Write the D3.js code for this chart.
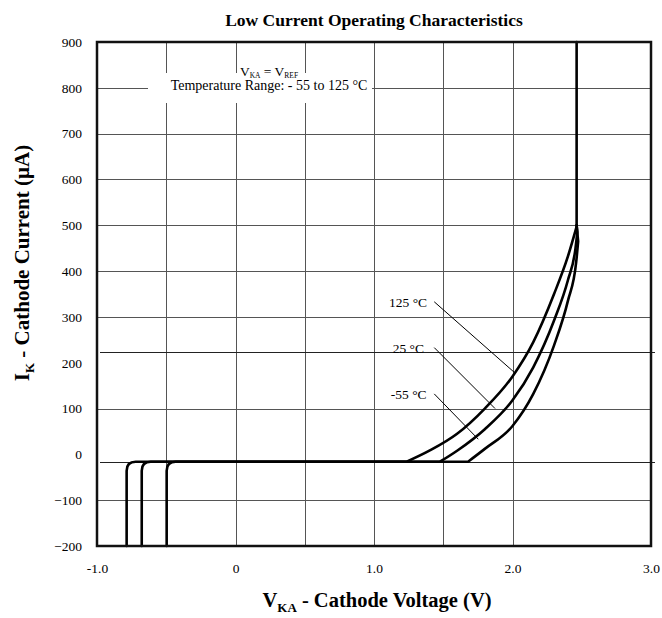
<!DOCTYPE html>
<html><head><meta charset="utf-8">
<script src="https://cdn.jsdelivr.net/npm/d3@7"></script>
<style>
html,body{margin:0;padding:0;background:#fff;}
text{font-family:"Liberation Serif","Times New Roman",serif;fill:#000;}
</style></head>
<body><div id="chart"></div>
<script>
// ---- data ----
const xTicks = [-1, 0, 1, 2, 3];
const xTickLabels = ["-1.0", "0", "1.0", "2.0", "3.0"];
const yTicks = [900, 800, 700, 600, 500, 400, 300, 200, 100, 0, -100, -200];
const xGrid = [-0.5, 0, 0.5, 1.0, 1.5, 2.0];
const yGrid = [800, 700, 600, 500, 400, 300, 100, -100];
const yGridLong = [223, -16];
const tempLabels = ["125 °C", "25 °C", "-55 °C"];
const leftV = [-0.786, -0.677, -0.497];       // reverse-bias knee voltage per curve
const flatI = -16;                              // flat current level (µA)
const rise125 = [[1.236,-16],[1.40,8],[1.60,45],[1.80,100],[2.00,170],[2.15,245],[2.30,350],[2.40,432],[2.463,497]];
const rise25  = [[1.476,-16],[1.60,8],[1.80,55],[2.00,118],[2.15,190],[2.30,292],[2.40,380],[2.455,450],[2.468,485]];
const riseM55 = [[1.679,-16],[1.80,12],[2.00,62],[2.15,132],[2.30,238],[2.40,335],[2.46,420],[2.474,465]];
const joinPt = [2.463, 500];
const topPt = [2.463, 900];
const labelPos = [[1.383,333],[1.361,232],[1.380,132]];
const leaders = [[[1.435,333],[2.013,179]],[[1.435,233],[1.874,100]],[[1.435,132],[1.753,33]]];

// ---- drawing ----
const W = 662, H = 618;
const svg = d3.select("#chart").append("svg").attr("width", W).attr("height", H);
const x = d3.scaleLinear().domain([-1, 3]).range([97, 651]);
const y = d3.scaleLinear().domain([-200, 900]).range([546, 42]);

const grid = svg.append("g").attr("stroke", "#555").attr("stroke-width", 1);
grid.selectAll("line.v").data(xGrid).join("line")
  .attr("x1", d => Math.round(x(d)) + 0.5).attr("x2", d => Math.round(x(d)) + 0.5)
  .attr("y1", y(900)).attr("y2", y(-200));
grid.selectAll("line.h").data(yGrid).join("line")
  .attr("x1", x(-1)).attr("x2", x(3))
  .attr("y1", d => Math.round(y(d)) + 0.5).attr("y2", d => Math.round(y(d)) + 0.5);
grid.selectAll("line.hl").data(yGridLong).join("line")
  .attr("stroke", "#222")
  .attr("x1", x(-1) + 3).attr("x2", x(3) + 4)
  .attr("y1", d => Math.round(y(d)) + 0.5).attr("y2", d => Math.round(y(d)) + 0.5);

// annotation box + text
svg.append("rect").attr("x", 148).attr("y", 73).attr("width", 224).attr("height", 30).attr("fill", "#fff");
const a1 = svg.append("text").attr("x", 269).attr("y", 76).attr("text-anchor", "middle").attr("font-size", 13.5);
a1.append("tspan").text("V");
a1.append("tspan").attr("font-size", 7.5).attr("dy", 2).text("KA");
a1.append("tspan").attr("dy", -2).text(" = V");
a1.append("tspan").attr("font-size", 7.5).attr("dy", 2).text("REF");
svg.append("text").attr("x", 269).attr("y", 90).attr("text-anchor", "middle").attr("font-size", 14)
  .text("Temperature Range: - 55 to 125 °C");

// leaders and labels
svg.append("g").selectAll("line").data(leaders).join("line")
  .attr("stroke", "#000").attr("stroke-width", 1)
  .attr("x1", d => x(d[0][0])).attr("y1", d => y(d[0][1]))
  .attr("x2", d => x(d[1][0])).attr("y2", d => y(d[1][1]));
svg.append("g").selectAll("text").data(tempLabels).join("text")
  .attr("x", (d, i) => x(labelPos[i][0])).attr("y", (d, i) => y(labelPos[i][1]))
  .attr("dy", "0.35em").attr("text-anchor", "end").attr("font-size", 13.5).text(d => d);

// curves
const riseLine = d3.line().x(d => x(d[0])).y(d => y(d[1])).curve(d3.curveMonotoneX);
function curvePath(v, rise, withTop) {
  const p = d3.path();
  const r = 9;
  p.moveTo(x(v), y(-200));
  p.lineTo(x(v), y(flatI) + r);
  p.quadraticCurveTo(x(v), y(flatI), x(v) + r, y(flatI));
  p.lineTo(x(rise[0][0]), y(rise[0][1]));
  riseLine.context(p)(rise);
  p.lineTo(x(joinPt[0]), y(joinPt[1]));
  if (withTop) p.lineTo(x(topPt[0]), y(topPt[1]));
  return p.toString();
}
const curveG = svg.append("g").attr("fill", "none").attr("stroke", "#000").attr("stroke-width", 2.6)
  .attr("stroke-linejoin", "round").attr("stroke-linecap", "round");
curveG.append("path").attr("d", curvePath(leftV[0], rise125, true));
curveG.append("path").attr("d", curvePath(leftV[1], rise25, false));
curveG.append("path").attr("d", curvePath(leftV[2], riseM55, false));

// frame
svg.append("rect").attr("x", x(-1)).attr("y", y(900)).attr("width", x(3) - x(-1)).attr("height", y(-200) - y(900))
  .attr("fill", "none").attr("stroke", "#111").attr("stroke-width", 2.5);

// axes
const xAxis = d3.axisBottom(x).tickValues(xTicks).tickFormat((d, i) => xTickLabels[i]).tickSize(0).tickPadding(17);
const gx = svg.append("g").attr("transform", `translate(0,${y(-200)})`).call(xAxis);
gx.select(".domain").remove();
gx.selectAll("text").attr("font-size", 13.5).attr("font-family", "Liberation Serif");
const yAxis = d3.axisLeft(y).tickValues(yTicks).tickSize(0).tickPadding(15);
const gy = svg.append("g").attr("transform", `translate(${x(-1)},0)`).call(yAxis);
gy.select(".domain").remove();
gy.selectAll("text").attr("font-size", 13.5).attr("font-family", "Liberation Serif");

// titles
svg.append("text").attr("x", 374).attr("y", 26).attr("text-anchor", "middle")
  .attr("font-size", 17.5).attr("font-weight", "bold").text("Low Current Operating Characteristics");
const xt = svg.append("text").attr("x", 377).attr("y", 607).attr("text-anchor", "middle")
  .attr("font-size", 20.5).attr("font-weight", "bold");
xt.append("tspan").text("V");
xt.append("tspan").attr("font-size", 13).attr("dy", 5).text("KA");
xt.append("tspan").attr("dy", -5).text(" - Cathode Voltage (V)");
const yt = svg.append("text").attr("transform", "translate(29,263) rotate(-90)").attr("text-anchor", "middle")
  .attr("font-size", 21).attr("font-weight", "bold");
yt.append("tspan").text("I");
yt.append("tspan").attr("font-size", 13).attr("dy", 5).text("K");
yt.append("tspan").attr("dy", -5).text(" - Cathode Current (µA)");
</script></body></html>
